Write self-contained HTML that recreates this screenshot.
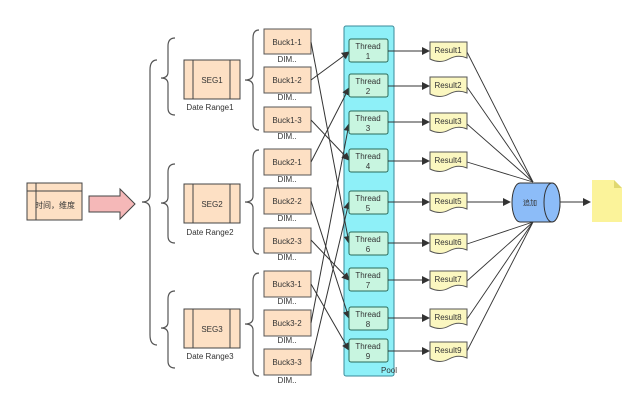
<!DOCTYPE html><html><head><style>body{margin:0;background:#fff}svg{display:block}text{font-family:"Liberation Sans","Noto Sans CJK SC",sans-serif;fill:#333}</style></head><body>
<svg width="640" height="408" viewBox="0 0 640 408" xmlns="http://www.w3.org/2000/svg">
<defs><marker id="a" markerWidth="8" markerHeight="8" refX="7" refY="4" orient="auto" markerUnits="userSpaceOnUse"><path d="M0,0L8,4L0,8z" fill="#333"/></marker></defs>
<g fill="none" stroke="#555" stroke-width="1.2">
<path d="M157,60 Q150,60 150,70 L150,195 Q150,202 142,202 Q150,202 150,209 L150,335 Q150,345 157,345"/>
<path d="M175,38 Q168,38 168,46 L168,72 Q168,78 161,78 Q168,78 168,84 L168,108 Q168,115 175,115"/>
<path d="M175,164 Q168,164 168,172 L168,197 Q168,203 161,203 Q168,203 168,209 L168,236 Q168,243 175,243"/>
<path d="M175,291 Q168,291 168,299 L168,322 Q168,328 161,328 Q168,328 168,334 L168,361 Q168,368 175,368"/>
<path d="M259,30 Q253,30 253,38 L253,74 Q253,80 245,80 Q253,80 253,86 L253,123 Q253,130 259,130"/>
<path d="M259,150 Q253,150 253,158 L253,196 Q253,202 245,202 Q253,202 253,208 L253,247 Q253,254 259,254"/>
<path d="M259,273 Q253,273 253,281 L253,318 Q253,324 245,324 Q253,324 253,330 L253,369 Q253,376 259,376"/>
</g>
<g stroke="#444" stroke-width="1" fill="#fde0c4">
<rect x="27" y="183" width="55" height="37"/><line x1="27" y1="191" x2="82" y2="191"/><line x1="36" y1="183" x2="36" y2="220"/>
<rect x="184" y="60" width="56" height="39"/><line x1="193" y1="60" x2="193" y2="99"/><line x1="230" y1="60" x2="230" y2="99"/>
<rect x="184" y="184" width="56" height="39"/><line x1="193" y1="184" x2="193" y2="223"/><line x1="230" y1="184" x2="230" y2="223"/>
<rect x="184" y="309" width="56" height="39"/><line x1="193" y1="309" x2="193" y2="348"/><line x1="230" y1="309" x2="230" y2="348"/>
</g>
<path d="M89,196 L120,196 L120,189 L135,204 L120,219 L120,212 L89,212 Z" fill="#f5b8b8" stroke="#444"/>
<g font-size="8" text-anchor="middle">
<text x="55" y="208">时间，维度</text>
<text x="212" y="83">SEG1</text><text x="212" y="207">SEG2</text><text x="212" y="332">SEG3</text>
<text x="210" y="110">Date Range1</text><text x="210" y="235">Date Range2</text><text x="210" y="359">Date Range3</text>
</g>
<rect x="344" y="26" width="50" height="350" rx="2" fill="#8ef0f8" stroke="#3a8a9a"/>
<text x="381" y="373" font-size="8">Pool</text>
<g font-size="8" text-anchor="middle">
<g stroke="#555" fill="#fde0c4">
<rect x="264" y="29" width="47" height="25"/><rect x="264" y="67" width="47" height="26"/><rect x="264" y="107" width="47" height="25"/>
<rect x="264" y="149" width="47" height="26"/><rect x="264" y="188" width="47" height="26"/><rect x="264" y="228" width="47" height="25"/>
<rect x="264" y="271" width="47" height="26"/><rect x="264" y="310" width="47" height="26"/><rect x="264" y="349" width="47" height="26"/>
</g>
<text x="287" y="45">Buck1-1</text><text x="287" y="83">Buck1-2</text><text x="287" y="123">Buck1-3</text>
<text x="287" y="165">Buck2-1</text><text x="287" y="204">Buck2-2</text><text x="287" y="244">Buck2-3</text>
<text x="287" y="287">Buck3-1</text><text x="287" y="326">Buck3-2</text><text x="287" y="365">Buck3-3</text>
<g fill="#777"><text x="287" y="62">DIM..</text><text x="287" y="100">DIM..</text><text x="287" y="139">DIM..</text>
<text x="287" y="182">DIM..</text><text x="287" y="221">DIM..</text><text x="287" y="260">DIM..</text>
<text x="287" y="304">DIM..</text><text x="287" y="343">DIM..</text><text x="287" y="383">DIM..</text></g>
</g>
<g stroke="#333" stroke-width="1" marker-end="url(#a)">
<line x1="311" y1="42" x2="349" y2="243"/><line x1="311" y1="80" x2="349" y2="52"/><line x1="311" y1="120" x2="349" y2="160"/>
<line x1="311" y1="162" x2="349" y2="88"/><line x1="311" y1="201" x2="349" y2="318"/><line x1="311" y1="240" x2="349" y2="280"/>
<line x1="311" y1="284" x2="349" y2="350"/><line x1="311" y1="323" x2="349" y2="124"/><line x1="311" y1="362" x2="349" y2="202"/>
</g>
<g font-size="8" text-anchor="middle" stroke-width="1">
<g stroke="#2a6a5a" fill="#c8f5e0">
<rect x="349" y="39" width="39" height="23" rx="2"/><rect x="349" y="74" width="39" height="23" rx="2"/><rect x="349" y="111" width="39" height="23" rx="2"/>
<rect x="349" y="149" width="39" height="23" rx="2"/><rect x="349" y="191" width="39" height="23" rx="2"/><rect x="349" y="232" width="39" height="23" rx="2"/>
<rect x="349" y="268" width="39" height="23" rx="2"/><rect x="349" y="307" width="39" height="23" rx="2"/><rect x="349" y="339" width="39" height="23" rx="2"/>
</g>
<text x="368" y="49">Thread</text><text x="368" y="59">1</text>
<text x="368" y="84">Thread</text><text x="368" y="94">2</text>
<text x="368" y="121">Thread</text><text x="368" y="131">3</text>
<text x="368" y="159">Thread</text><text x="368" y="169">4</text>
<text x="368" y="201">Thread</text><text x="368" y="211">5</text>
<text x="368" y="242">Thread</text><text x="368" y="252">6</text>
<text x="368" y="278">Thread</text><text x="368" y="288">7</text>
<text x="368" y="317">Thread</text><text x="368" y="327">8</text>
<text x="368" y="349">Thread</text><text x="368" y="359">9</text>
</g>
<g stroke="#333" marker-end="url(#a)">
<line x1="388" y1="51" x2="429" y2="51"/><line x1="388" y1="86" x2="429" y2="86"/><line x1="388" y1="122" x2="429" y2="122"/>
<line x1="388" y1="161" x2="429" y2="161"/><line x1="388" y1="202" x2="429" y2="202"/><line x1="388" y1="243" x2="429" y2="243"/>
<line x1="388" y1="280" x2="429" y2="280"/><line x1="388" y1="318" x2="429" y2="318"/><line x1="388" y1="351" x2="429" y2="351"/>
<line x1="467" y1="202" x2="510" y2="202"/><line x1="560" y1="202" x2="590" y2="202"/>
</g>
<g stroke="#333" stroke-width="0.9">
<line x1="467" y1="52" x2="533" y2="182"/><line x1="467" y1="87" x2="533" y2="182"/><line x1="467" y1="124" x2="533" y2="182"/><line x1="467" y1="162" x2="533" y2="182"/>
<line x1="467" y1="244" x2="533" y2="222"/><line x1="467" y1="281" x2="533" y2="222"/><line x1="467" y1="319" x2="533" y2="222"/><line x1="467" y1="351" x2="533" y2="222"/>
</g>
<g font-size="8" text-anchor="middle">
<g fill="#fbf7c0" stroke="#555">
<path d="M430,42h37v16q-9,-4 -18,1t-19,0z"/><path d="M430,77h37v16q-9,-4 -18,1t-19,0z"/><path d="M430,113h37v16q-9,-4 -18,1t-19,0z"/>
<path d="M430,152h37v16q-9,-4 -18,1t-19,0z"/><path d="M430,193h37v16q-9,-4 -18,1t-19,0z"/><path d="M430,234h37v16q-9,-4 -18,1t-19,0z"/>
<path d="M430,271h37v16q-9,-4 -18,1t-19,0z"/><path d="M430,309h37v16q-9,-4 -18,1t-19,0z"/><path d="M430,342h37v16q-9,-4 -18,1t-19,0z"/>
</g>
<text x="448" y="53">Result1</text><text x="448" y="88">Result2</text><text x="448" y="124">Result3</text>
<text x="448" y="163">Result4</text><text x="448" y="204">Result5</text><text x="448" y="245">Result6</text>
<text x="448" y="282">Result7</text><text x="448" y="320">Result8</text><text x="448" y="353">Result9</text>
</g>
<path d="M520,183 L552,183 A8,19.5 0 0 1 552,222 L520,222 A8,19.5 0 0 1 520,183 Z" fill="#8cbcf8" stroke="#333"/>
<ellipse cx="552" cy="202.5" rx="8" ry="19.5" fill="#8cbcf8" stroke="#333"/>
<text x="530" y="205" font-size="7" text-anchor="middle" fill="#335">追加</text>
<path d="M592,180 L614,180 L622,188 L622,222 L592,222 Z" fill="#fbf39a"/>
<path d="M614,180 L614,188 L622,188 Z" fill="#e0d870"/>
</svg></body></html>
